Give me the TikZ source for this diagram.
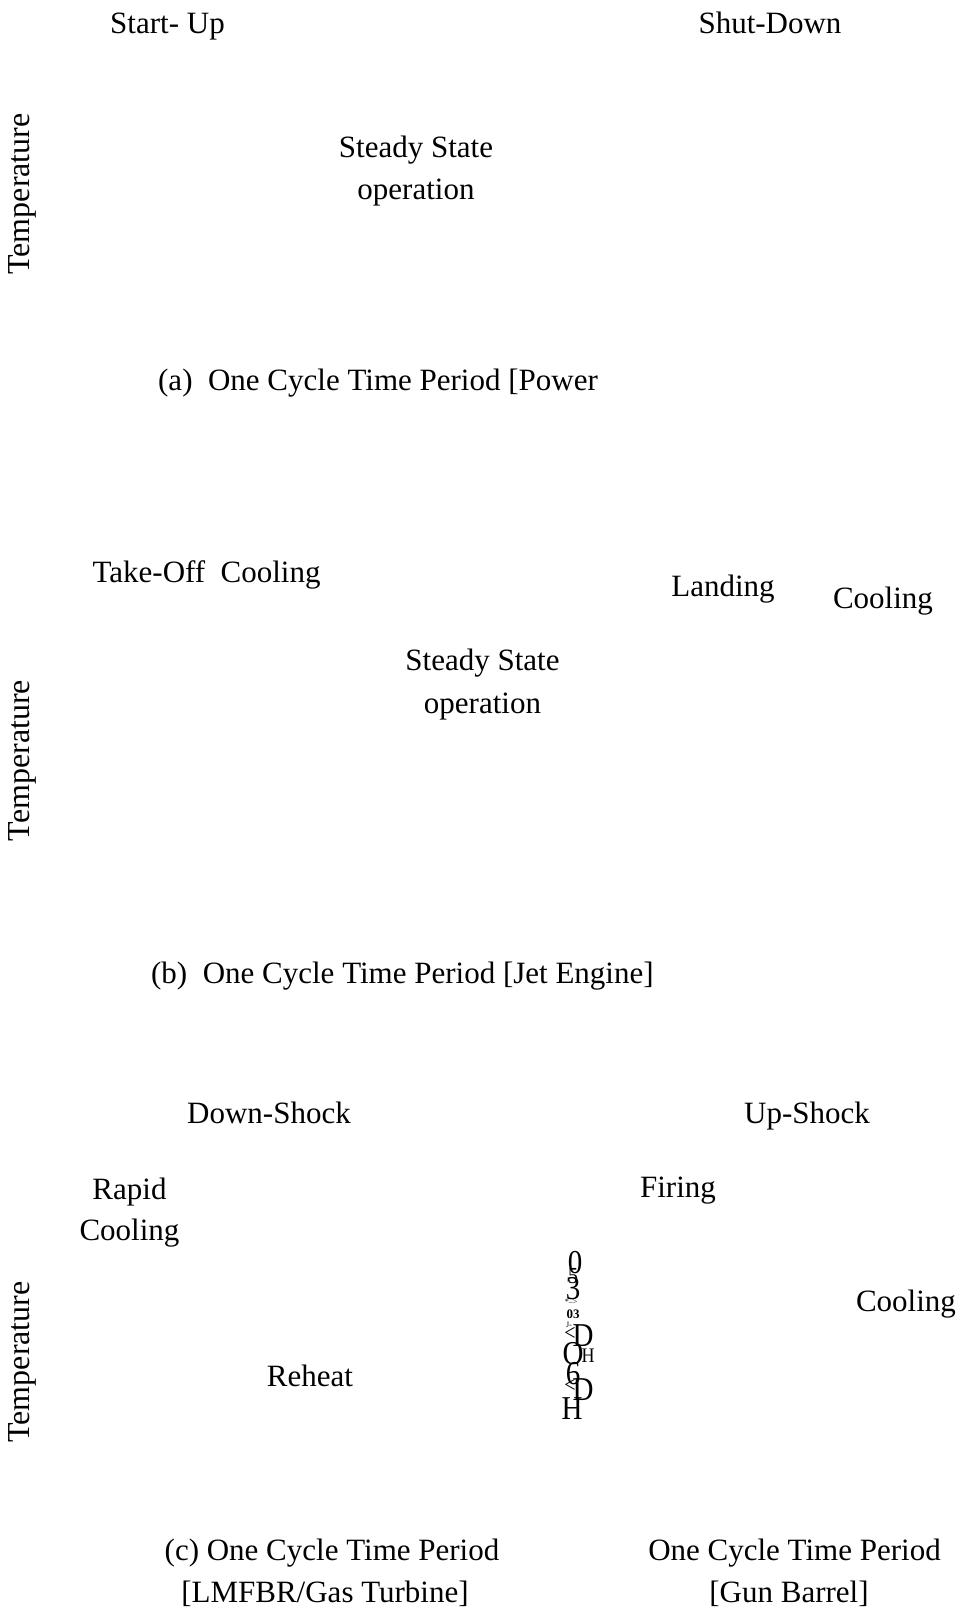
\documentclass[tikz,border=0pt]{standalone}
\usepackage{fontspec}
\setmainfont{Liberation Serif}
\begin{document}
\begin{tikzpicture}[x=1pt,y=-1pt,
  lbl/.style={inner sep=0pt,anchor=base,font=\fontsize{31}{40}\selectfont},
  axis/.style={inner sep=0pt,anchor=center,rotate=90,font=\fontsize{32}{40}\selectfont},
  gl/.style={inner sep=0pt,anchor=center,yscale=1.15,font=\fontsize{29}{30}\selectfont},
  gls/.style={inner sep=0pt,anchor=center,font=\fontsize{13}{14}\selectfont\bfseries},
  glt/.style={inner sep=0pt,anchor=center,font=\fontsize{8}{9}\selectfont}]
\useasboundingbox (0,0) rectangle (962,1612);
% (a)
\node[lbl] (a1) at (167.5,33) {Start- Up};
\node[lbl] (a2) at (770,33) {Shut-Down};
\node[axis] (a3) at (22.6,194) {Temperature};
\node[lbl] (a4) at (416,157) {Steady State};
\node[lbl] (a5) at (416,199) {operation};
\node[lbl] (a6) at (378,390) {(a)\ \ One Cycle Time Period [Power};
% (b)
\node[lbl] (b1) at (206.6,582.5) {Take-Off\ \ Cooling};
\node[lbl] (b2) at (723,596) {Landing};
\node[lbl] (b3) at (883,608) {Cooling};
\node[lbl] (b4) at (482.5,670) {Steady State};
\node[lbl] (b5) at (482.5,713) {operation};
\node[axis] (b6) at (22.6,760.5) {Temperature};
\node[lbl] (b7) at (402.4,983) {(b)\ \ One Cycle Time Period [Jet Engine]};
% (c)
\node[lbl] (c1) at (269,1123) {Down-Shock};
\node[lbl] (c2) at (807,1123) {Up-Shock};
\node[lbl] (c3) at (129.5,1199) {Rapid};
\node[lbl] (c4) at (129.5,1240) {Cooling};
\node[lbl] (c5) at (678,1197) {Firing};
\node[lbl] (c6) at (906,1311) {Cooling};
\node[lbl] (c7) at (310,1386) {Reheat};
\node[axis] (c8) at (22.6,1362) {Temperature};
\node[lbl] (c9) at (332,1560) {(c) One Cycle Time Period};
\node[lbl] (c10) at (325,1602) {[LMFBR/Gas Turbine]};
\node[lbl] (c11) at (794.5,1560) {One Cycle Time Period};
\node[lbl] (c12) at (789,1602) {[Gun Barrel]};
% garbled glyph column
\node[gl] (g1) at (575,1263) {0};
\node[gl,font=\fontsize{20}{20}\selectfont] (g2) at (573,1276) {5};
\node[gl] (g3) at (573,1289) {3};
\node[glt] (g4) at (571,1302) {*-->};
\node[gls] (g5) at (573,1314) {03};
\node[glt] (g6) at (569,1325) {J-};
\node[gl] (g7) at (583,1336) {D};
\node[gl,font=\fontsize{20}{20}\selectfont] (g8) at (570,1334) {<};
\node[gl] (g9) at (573,1354) {O};
\node[gl,font=\fontsize{18}{18}\selectfont] (g10) at (588,1356) {H};
\node[gl] (g11) at (573,1374) {6};
\node[gl] (g12) at (583,1390) {D};
\node[gl,font=\fontsize{20}{20}\selectfont] (g13) at (570,1386) {<};
\node[gl] (g14) at (572,1409) {H};
\end{tikzpicture}
\end{document}
